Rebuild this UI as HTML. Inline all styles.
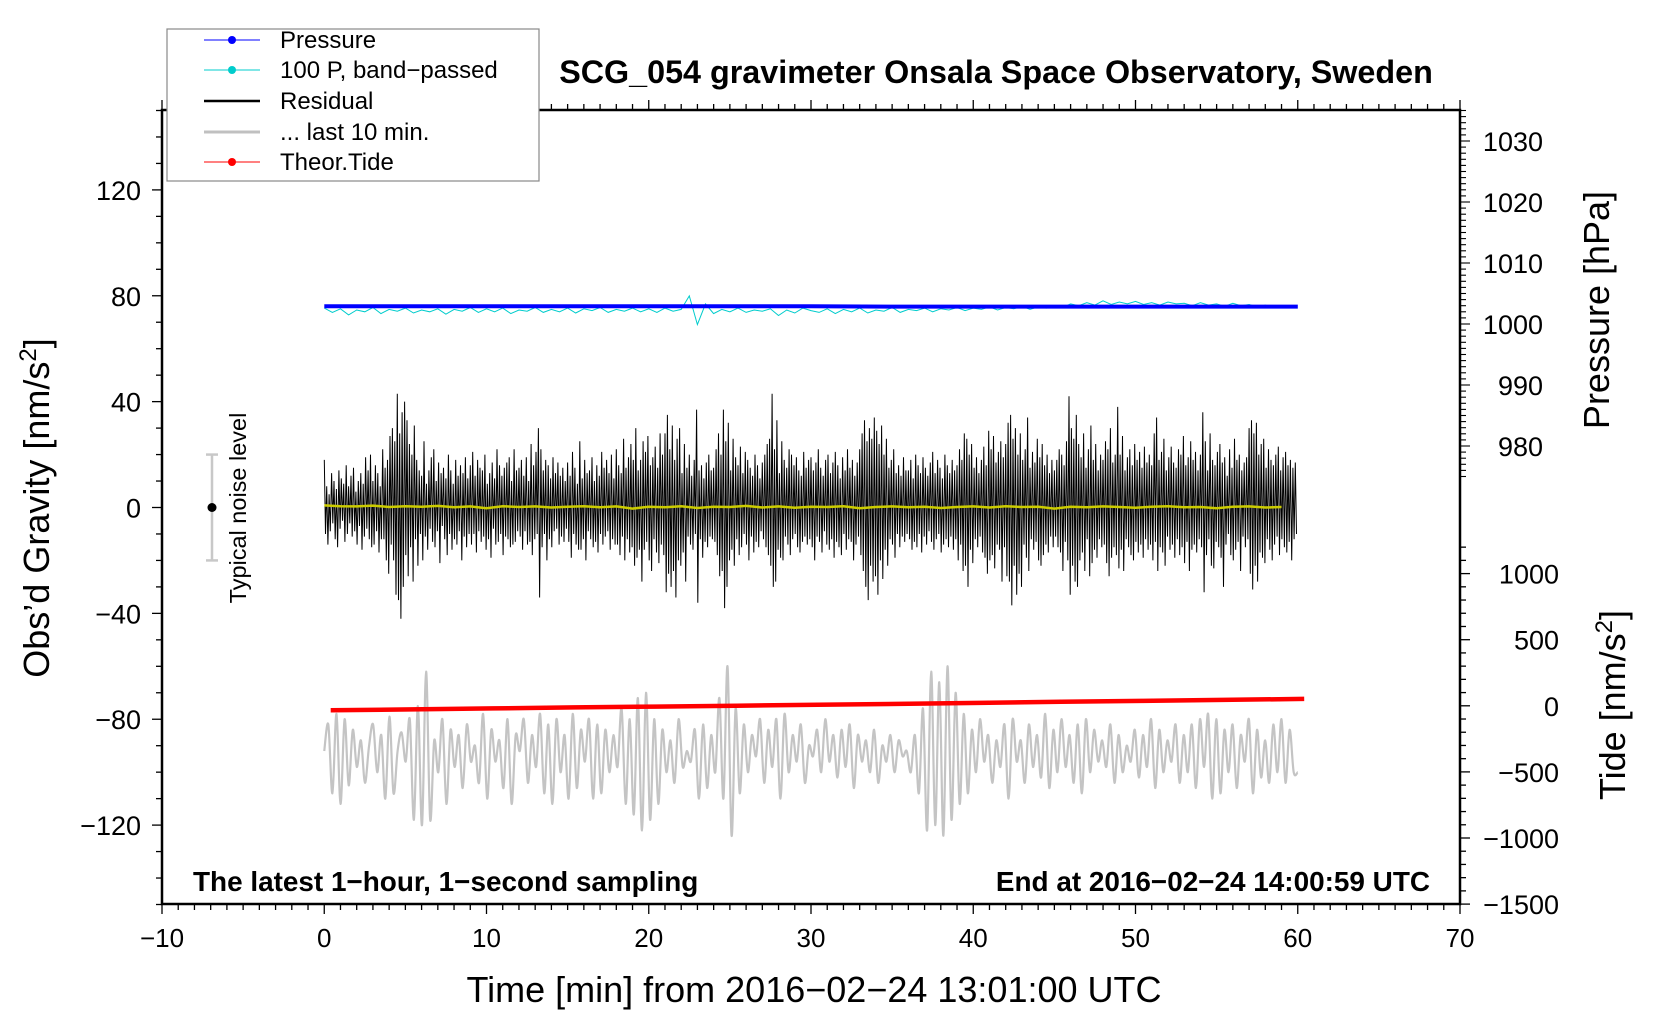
<!DOCTYPE html>
<html><head><meta charset="utf-8"><style>
html,body{margin:0;padding:0;background:#fff}
svg{display:block;font-family:"Liberation Sans",Arial,sans-serif}
</style></head><body>
<svg id="chart" width="1660" height="1020" viewBox="0 0 1660 1020" xmlns="http://www.w3.org/2000/svg">
<rect x="0" y="0" width="1660" height="1020" fill="#fff"/>
<g id="series"></g>
<g id="axes"></g>
<text x="996" y="83" font-size="32.3" font-weight="bold" text-anchor="middle">SCG_054 gravimeter Onsala Space Observatory, Sweden</text>
<text transform="translate(49,508) rotate(-90)" font-size="36" text-anchor="middle">Obs’d Gravity [nm/s<tspan dy="-13" font-size="24">2</tspan><tspan dy="13">]</tspan></text>
<text transform="translate(1609,310) rotate(-90)" font-size="36" text-anchor="middle">Pressure [hPa]</text>
<text transform="translate(1625,705) rotate(-90)" font-size="36" text-anchor="middle">Tide [nm/s<tspan dy="-13" font-size="24">2</tspan><tspan dy="13">]</tspan></text>
<text x="814" y="1002" font-size="36" text-anchor="middle">Time [min] from 2016−02−24 13:01:00 UTC</text>
<text x="193" y="891" font-size="27.9" font-weight="bold">The latest 1−hour, 1−second sampling</text>
<text x="1430" y="891" font-size="27.9" font-weight="bold" text-anchor="end">End at 2016−02−24 14:00:59 UTC</text>
<g>
<line id="nl-bar" x1="212" x2="212" stroke="#c8c8c8" stroke-width="2.5"/>
<line id="nl-top" x1="206" x2="218" stroke="#c8c8c8" stroke-width="2.5"/>
<line id="nl-bot" x1="206" x2="218" stroke="#c8c8c8" stroke-width="2.5"/>
<circle id="nl-dot" cx="212" r="4.5" fill="#000"/>
<text transform="translate(246,508) rotate(-90)" font-size="23.5" text-anchor="middle">Typical noise level</text>
</g>
<g>
<rect x="167" y="29" width="372" height="152" fill="#fff" stroke="#888" stroke-width="1.2"/>
<g><line x1="204" y1="40" x2="260" y2="40" stroke="#00f" stroke-width="1"/><circle cx="232" cy="40" r="4" fill="#00f"/><text x="280" y="48" font-size="24">Pressure</text></g>
<g><line x1="204" y1="70" x2="260" y2="70" stroke="#00cccc" stroke-width="1"/><circle cx="232" cy="70" r="4" fill="#00cccc"/><text x="280" y="78" font-size="24">100 P, band−passed</text></g>
<g><line x1="204" y1="101" x2="260" y2="101" stroke="#000" stroke-width="2.5"/><text x="280" y="109" font-size="24">Residual</text></g>
<g><line x1="204" y1="132" x2="260" y2="132" stroke="#c0c0c0" stroke-width="3"/><text x="280" y="140" font-size="24">... last 10 min.</text></g>
<g><line x1="204" y1="162" x2="260" y2="162" stroke="#f00" stroke-width="1"/><circle cx="232" cy="162" r="4" fill="#f00"/><text x="280" y="170" font-size="24">Theor.Tide</text></g>
</g>
</svg>
<script>
const residual=[18,-10,8,-14,5,-9,13,-6,10,-12,7,-15,14,-8,11,-5,9,-13,16,-10,8,-6,12,-11,15,-9,6,-14,10,-7,13,-16,9,-11,19,-8,14,-12,20,-15,
10,-14,16,-9,13,-17,8,-12,22,-12,15,-20,18,-25,27,-14,30,-20,25,-33,43,-35,28,-42,36,-30,40,-18,33,-26,24,-15,20,-28,31,-12,18,-22,14,-10,
12,-20,25,-11,9,-16,14,-8,19,-13,22,-15,10,-9,17,-21,13,-7,15,-12,11,-18,20,-10,14,-16,9,-12,18,-14,12,-9,16,-20,13,-11,19,-15,11,-10,
16,-14,21,-10,12,-17,18,-9,15,-13,14,-11,20,-16,9,-12,13,-19,17,-8,11,-14,22,-13,16,-10,12,-18,15,-11,17,-12,19,-15,10,-14,22,-13,14,-9,
15,-11,18,-16,12,-9,19,-14,10,-13,24,-18,16,-12,21,-10,30,-34,22,-15,14,-10,18,-20,16,-12,11,-15,19,-9,13,-8,17,-14,12,-11,15,-13,10,-8,
17,-13,12,-19,21,-10,15,-14,9,-16,25,-16,11,-12,18,-20,13,-9,14,-12,19,-15,10,-13,16,-17,12,-10,21,-14,15,-11,18,-9,13,-16,20,-12,11,-14,
22,-14,16,-18,13,-11,26,-20,15,-12,19,-17,24,-15,18,-22,30,-19,14,-16,18,-28,25,-16,21,-13,27,-20,16,-24,19,-12,23,-17,15,-21,28,-14,20,-18,
28,-32,35,-25,22,-30,31,-24,18,-34,26,-20,30,-22,13,-17,24,-28,15,-11,20,-14,12,-16,18,-10,37,-36,14,-12,16,-19,11,-13,17,-15,20,-11,14,-12,
15,-13,22,-18,28,-26,20,-24,37,-38,25,-30,32,-20,14,-16,26,-22,19,-12,16,-18,23,-15,13,-10,21,-14,18,-20,15,-11,12,-17,20,-13,16,-15,11,-9,
17,-12,20,-15,24,-18,26,-22,43,-30,22,-28,33,-16,13,-19,25,-20,18,-11,15,-14,22,-18,20,-12,16,-10,19,-15,14,-17,12,-13,21,-11,15,-14,18,-12,
19,-15,14,-20,17,-11,22,-13,15,-17,12,-9,18,-14,20,-16,13,-12,17,-19,21,-13,16,-15,11,-18,19,-10,14,-16,22,-12,15,-13,18,-20,12,-14,17,-11,
22,-18,28,-24,33,-30,25,-35,30,-22,26,-28,34,-26,29,-33,24,-20,31,-27,20,-16,26,-22,15,-12,18,-14,22,-19,13,-10,16,-15,12,-11,19,-13,14,-10,
14,-12,18,-16,11,-13,20,-15,16,-10,13,-17,19,-11,15,-14,12,-9,17,-13,21,-16,13,-12,18,-10,15,-17,11,-14,20,-12,16,-15,13,-11,18,-16,14,-12,
16,-20,22,-14,18,-24,28,-22,26,-30,20,-16,24,-21,15,-12,19,-15,13,-11,18,-17,23,-19,16,-25,29,-20,22,-18,27,-23,17,-14,21,-16,25,-28,19,-15,
24,-26,32,-28,35,-37,26,-22,30,-33,20,-25,28,-30,18,-14,22,-19,34,-24,15,-12,21,-16,17,-13,26,-20,19,-22,24,-18,16,-14,20,-17,13,-11,18,-15,
14,-11,18,-15,22,-17,20,-24,16,-13,25,-20,42,-33,30,-22,26,-28,35,-30,24,-20,19,-17,28,-24,15,-12,22,-26,31,-21,18,-16,24,-19,14,-12,20,-15,
18,-14,25,-21,22,-26,30,-19,17,-15,20,-18,38,-23,20,-16,27,-24,14,-12,19,-15,22,-18,16,-20,24,-13,18,-17,21,-14,15,-19,23,-12,17,-16,20,-14,
16,-20,28,-13,34,-24,18,-15,21,-17,26,-22,14,-11,19,-16,23,-14,17,-19,15,-12,22,-18,20,-15,27,-21,16,-13,19,-24,25,-16,18,-14,21,-17,14,-12,
20,-15,36,-32,25,-18,14,-12,28,-22,18,-23,16,-13,21,-15,24,-19,17,-30,19,-14,12,-10,22,-18,15,-20,26,-16,18,-13,20,-24,14,-11,17,-15,19,-12,
30,-25,33,-31,28,-22,32,-28,20,-17,24,-19,26,-21,15,-12,22,-16,18,-20,16,-14,20,-11,23,-18,14,-12,19,-15,21,-17,16,-13,18,-20,15,-12,17,-10];
const last10=[-92,-82,-108,-78,-112,-80,-105,-84,-98,-88,-104,-90,-82,-100,-86,-110,-79,-108,-92,-85,-96,-80,-118,-75,
-120,-62,-118,-88,-100,-80,-112,-84,-98,-86,-106,-82,-96,-90,-104,-78,-110,-84,-96,-88,-106,-80,-112,-86,
-92,-80,-104,-86,-98,-78,-108,-82,-112,-80,-100,-86,-110,-78,-106,-84,-96,-80,-110,-82,-108,-84,-100,-86,
-98,-76,-112,-80,-116,-72,-122,-70,-118,-80,-112,-84,-100,-88,-104,-80,-98,-92,-96,-84,-110,-82,-106,-86,
-100,-72,-110,-60,-124,-76,-108,-82,-100,-86,-94,-80,-104,-84,-98,-80,-110,-78,-100,-86,-96,-82,-104,-90,
-94,-84,-100,-80,-96,-86,-102,-84,-98,-82,-106,-86,-96,-88,-100,-84,-104,-90,-96,-86,-100,-88,-94,-92,
-100,-86,-108,-76,-122,-62,-120,-66,-124,-60,-118,-70,-112,-78,-108,-84,-100,-80,-96,-86,-104,-88,-98,-82,
-110,-80,-96,-88,-104,-82,-98,-86,-102,-78,-106,-84,-100,-80,-98,-86,-104,-82,-108,-80,-100,-84,-96,-88,
-98,-82,-104,-86,-100,-90,-96,-84,-102,-86,-98,-80,-106,-84,-100,-88,-96,-82,-104,-86,-100,-82,-106,-80,
-98,-78,-110,-80,-108,-84,-100,-82,-106,-86,-96,-80,-108,-84,-102,-88,-104,-82,-100,-80,-104,-84,-100,-100];
const bandPassed=[1002.6,1001.9,1002.5,1001.5,1002.3,1002.0,1002.7,1001.7,1002.4,1002.1,1002.6,1001.8,1002.3,1002.0,1002.5,1001.6,1002.4,1002.1,1002.7,1001.9,
1002.5,1002.0,1002.6,1001.7,1002.3,1002.1,1002.7,1001.9,1002.4,1002.0,1002.6,1001.8,1002.5,1002.2,1002.7,1001.9,1002.4,1002.1,1002.6,1002.0,
1002.5,1001.9,1002.6,1002.1,1002.4,1004.6,999.9,1003.3,1001.7,1002.4,1002.0,1002.6,1001.9,1002.3,1002.1,1002.5,1001.4,1002.3,1001.8,1002.6,
1002.2,1001.9,1002.5,1001.7,1002.4,1002.0,1002.6,1001.8,1002.3,1002.1,1002.7,1001.9,1002.4,1002.2,1002.6,1002.0,1002.5,1002.3,1002.7,1002.2,
1002.6,1002.4,1002.8,1002.3,1002.7,1002.5,1002.9,1002.4,1002.8,1002.6,1003.0,1002.7,1003.3,1003.0,1003.5,1003.1,1003.8,1003.2,1003.6,1003.3,
1003.7,1003.2,1003.5,1003.1,1003.6,1003.3,1003.4,1003.0,1003.5,1003.1,1003.3,1002.9,1003.4,1003.0,1003.2,1002.8,1003.1,1002.7,1003.0,1002.9];
const pressure=[1002.9,1002.9,1002.9,1002.9,1002.9,1002.9,1002.9,1002.85,1002.85,1002.85,1002.85,1002.85,1002.85];
const smoothRes=[0.8,0.5,0.4,0.7,0.2,0.5,0.3,0.6,0.1,0.4,-0.3,0.5,0.2,0.4,0.0,0.3,0.5,0.1,0.4,-0.4,
0.3,0.1,0.5,-0.2,0.3,0.2,0.6,0.0,0.4,-0.1,0.3,0.2,0.5,-0.3,0.2,0.4,0.1,0.3,-0.2,0.2,
0.4,0.0,0.5,0.2,0.3,-0.4,0.3,0.1,0.4,0.2,-0.1,0.3,0.5,0.1,0.2,-0.3,0.3,0.4,0.0,0.2];
const tide=[-33,-27,-20,-12,-6,1,8,14,22,30,37,45,52];
const xTicks=[-10,0,10,20,30,40,50,60,70];
const gTicks=[-120,-80,-40,0,40,80,120];
const pTicks=[980,990,1000,1010,1020,1030];
const tTicks=[-1500,-1000,-500,0,500,1000];

const L=162,R=1460,T=110,B=904;
const X=t=>L+(t+10)*(R-L)/80;
const Yg=v=>507.5-v*(B-T)/300;
const Yp=p=>324-(p-1000)*6.1;
const Yt=v=>705.8-v*66.1/500;
const NS='http://www.w3.org/2000/svg';
const series=document.getElementById('series'),axes=document.getElementById('axes');
function mk(tag,attrs,parent){const e=document.createElementNS(NS,tag);for(const k in attrs)e.setAttribute(k,attrs[k]);parent.appendChild(e);return e;}
function pts(arr,dt,t0,fy){return arr.map((v,i)=>X(t0+i*dt).toFixed(1)+','+fy(v).toFixed(1)).join(' ');}
function smoothPath(arr,dt,t0,fy){const P=arr.map((v,i)=>[X(t0+i*dt),fy(v)]);let d='M'+P[0][0]+','+P[0][1];
for(let i=0;i<P.length-1;i++){const p0=P[Math.max(i-1,0)],p1=P[i],p2=P[i+1],p3=P[Math.min(i+2,P.length-1)];
d+=' C'+(p1[0]+(p2[0]-p0[0])/6).toFixed(1)+','+(p1[1]+(p2[1]-p0[1])/6).toFixed(1)+' '+(p2[0]-(p3[0]-p1[0])/6).toFixed(1)+','+(p2[1]-(p3[1]-p1[1])/6).toFixed(1)+' '+p2[0].toFixed(1)+','+p2[1].toFixed(1);}return d;}

let e=mk('path',{d:smoothPath(last10,60/(last10.length-1),0,Yg),fill:'none',stroke:'#c4c4c4','stroke-width':2.2},series);


e=mk('polyline',{points:pts(tide,5,0.4,Yt),fill:'none',stroke:'#f00','stroke-width':4.5},series);


e=mk('polyline',{points:pts(residual,0.075,0,Yg),fill:'none',stroke:'#000','stroke-width':1},series);


e=mk('polyline',{points:pts(smoothRes,1,0,Yg),fill:'none',stroke:'#cccc00','stroke-width':2.5},series);


e=mk('polyline',{points:pts(bandPassed,0.5,0,Yp),fill:'none',stroke:'#00cccc','stroke-width':1},series);


e=mk('polyline',{points:pts(pressure,5,0,Yp),fill:'none',stroke:'#0000ff','stroke-width':4},series);



const nb=document.getElementById('nl-bar');nb.setAttribute('y1',Yg(20));nb.setAttribute('y2',Yg(-20));
const nt=document.getElementById('nl-top');nt.setAttribute('y1',Yg(20));nt.setAttribute('y2',Yg(20));
const nbo=document.getElementById('nl-bot');nbo.setAttribute('y1',Yg(-20));nbo.setAttribute('y2',Yg(-20));
document.getElementById('nl-dot').setAttribute('cy',Yg(0));

e=mk('rect',{x:L,y:T,width:R-L,height:B-T,fill:'none',stroke:'#000','stroke-width':2.5},axes);


for(let t=-10;t<=70;t++){const maj=t%10===0;const x=X(t);
mk('line',{x1:x,x2:x,y1:B,y2:B+(maj?10:6),stroke:'#000','stroke-width':1.3},axes);
mk('line',{x1:x,x2:x,y1:T,y2:T-(maj?10:6),stroke:'#000','stroke-width':1.3},axes);}
xTicks.forEach(t=>{const tx=mk('text',{x:X(t),y:947,'font-size':26,'text-anchor':'middle'},axes);tx.textContent=String(t).replace('-','−');

});
for(let v=-150;v<=150;v+=10){const maj=v%40===0;const y=Yg(v);mk('line',{x1:L,x2:L-(maj?10:6),y1:y,y2:y,stroke:'#000','stroke-width':1.3},axes);}
gTicks.forEach(v=>{const tx=mk('text',{x:141,y:Yg(v)+10,'font-size':27,'text-anchor':'end'},axes);tx.textContent=String(v).replace('-','−');

});
for(let p=975;p<=1035;p++){const maj=p%10===0;const y=Yp(p);mk('line',{x1:R,x2:R+(maj?10:6),y1:y,y2:y,stroke:'#000','stroke-width':1.1},axes);}
pTicks.forEach(p=>{const tx=mk('text',{x:R+83,y:Yp(p)+10,'font-size':27,'text-anchor':'end'},axes);tx.textContent=String(p);

});
for(let v=-1500;v<=1200;v+=100){const maj=v%500===0;const y=Yt(v);mk('line',{x1:R,x2:R+(maj?10:6),y1:y,y2:y,stroke:'#000','stroke-width':1.3},axes);}
tTicks.forEach(v=>{const tx=mk('text',{x:R+99,y:Yt(v)+10,'font-size':27,'text-anchor':'end'},axes);tx.textContent=String(v).replace('-','−');

});
</script>
</body></html>
